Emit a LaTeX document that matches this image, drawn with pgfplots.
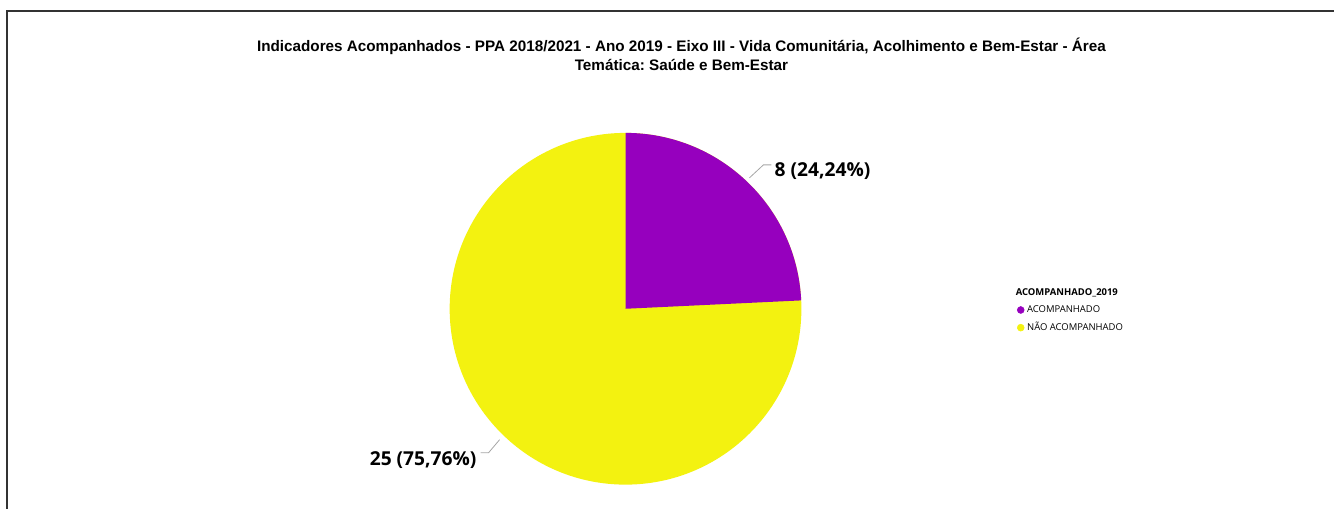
\documentclass[border=0pt]{standalone}
\usepackage{fontspec}
\setmainfont{Open Sans}
\newfontfamily\titlefont{Liberation Sans}
\usepackage{pgfplots}
\usepackage{pgfplotstable}
\pgfplotsset{compat=1.18}
\frenchspacing
\definecolor{piepurple}{RGB}{150,0,190}
\definecolor{pieyellow}{RGB}{243,242,16}
\pgfplotstableread{
label value
ACOMPANHADO 8
NAOACOMPANHADO 25
}\piedata
\begin{document}
\begin{tikzpicture}
\pgfkeys{/pgf/number format/assume math mode=true}
\pgfplotstablegetelem{0}{value}\of\piedata \let\va\pgfplotsretval
\pgfplotstablegetelem{1}{value}\of\piedata \let\vb\pgfplotsretval
\pgfmathsetmacro{\tot}{\va+\vb}
\pgfmathsetmacro{\angA}{90-360*\va/\tot}
\pgfmathsetmacro{\pctA}{100*\va/\tot}
\pgfmathsetmacro{\pctB}{100*\vb/\tot}
\begin{axis}[
  x=0.75pt, y=0.75pt,
  xmin=0, xmax=1335, ymin=0, ymax=509,
  axis lines=none, clip=false,
  legend style={draw=none, fill=none, at={(axis cs:1017.5,223)}, anchor=north west,
    font=\fontsize{7.1}{9}\selectfont, row sep=2.0pt, inner sep=0pt,
    /tikz/every even column/.append style={column sep=0pt}},
  legend cell align=left,
  legend image code/.code={\fill[#1] (0.09cm,0) circle (2.6pt);},
]
\path (axis cs:0,0) rectangle (axis cs:1335,509);
% border
\draw[line width=1.5pt, black!80] (axis cs:7,0) -- (axis cs:7,498) -- (axis cs:1335,498);
% pie
\fill[pieyellow] (axis cs:626,200) -- (axis cs:626,376) arc[start angle=90, end angle={\angA-360}, radius=132pt] -- cycle;
\fill[piepurple] (axis cs:626,200) -- (axis cs:626,376) arc[start angle=90, end angle=\angA, radius=132pt] -- cycle;
\addlegendimage{empty legend}
\addlegendentry{\hspace{-0.3cm}\textbf{ACOMPANHADO\_2019}}
\addlegendimage{piepurple}
\addlegendentry{ACOMPANHADO}
\addlegendimage{pieyellow}
\addlegendentry{NÃO ACOMPANHADO}
% leader lines
\draw[gray!70, line width=0.6pt] (axis cs:750,331) -- (axis cs:764,344) -- (axis cs:772,344);
\draw[gray!70, line width=0.6pt] (axis cs:500,69) -- (axis cs:489,56) -- (axis cs:481,56);
\node[anchor=west, inner sep=0pt, font=\fontsize{14.4}{17}\selectfont\bfseries] at (axis cs:775,338)
  {\pgfmathprintnumber[fixed,precision=0]{\va} (\pgfmathprintnumber[fixed,fixed zerofill,precision=2,use comma]{\pctA}\%)};
\node[anchor=east, inner sep=0pt, font=\fontsize{14.4}{17}\selectfont\bfseries] at (axis cs:477,49)
  {\pgfmathprintnumber[fixed,precision=0]{\vb} (\pgfmathprintnumber[fixed,fixed zerofill,precision=2,use comma]{\pctB}\%)};
% title
\node[align=center, font=\titlefont\fontsize{11.45}{14.3}\selectfont\bfseries] at (axis cs:682,455)
  {Indicadores Acompanhados - PPA 2018/2021 - Ano 2019 - Eixo III - Vida Comunitária, Acolhimento e Bem-Estar - Área\\Temática: Saúde e Bem-Estar};
\end{axis}
\end{tikzpicture}
\end{document}
